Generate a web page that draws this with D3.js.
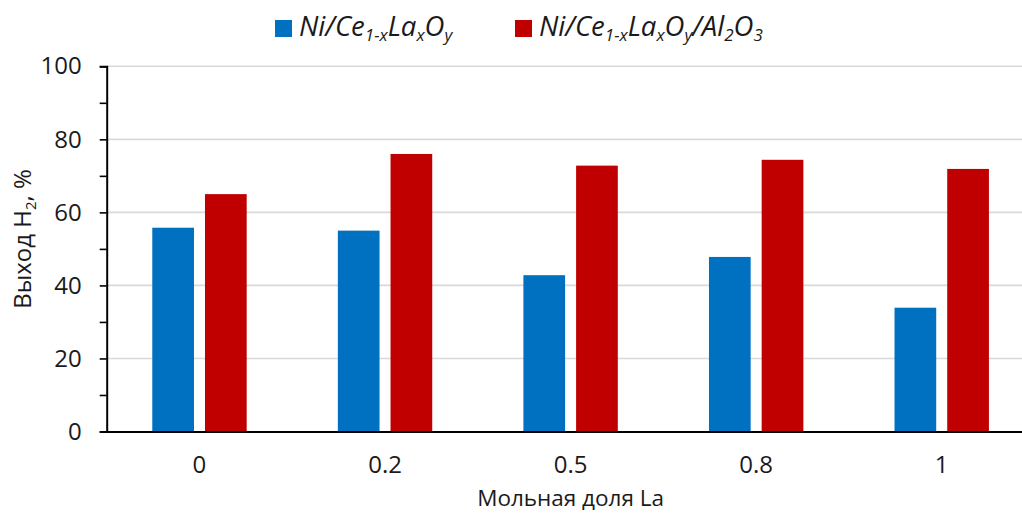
<!DOCTYPE html>
<html>
<head>
<meta charset="utf-8">
<script src="https://cdn.jsdelivr.net/npm/d3@7"></script>
<style>
  html, body { margin: 0; padding: 0; background: #fff; overflow: hidden; }
  text { font-family: "Open Sans", "Noto Sans", sans-serif; fill: #1a1a1a; }
</style>
</head>
<body>
<svg id="chart" width="1022" height="513"></svg>
<script>
const categories = ["0", "0.2", "0.5", "0.8", "1"];
const seriesNames = ["Ni/Ce1-xLaxOy", "Ni/Ce1-xLaxOy/Al2O3"];
const seriesA = [55.8, 55.0, 42.8, 47.8, 33.9];
const seriesB = [65.0, 76.0, 72.8, 74.4, 71.9];
const yTicks = [0, 20, 40, 60, 80, 100];
const yMinorTicks = [10, 30, 50, 70, 90];
const colors = ["#0070C0", "#C00000"];

const svg = d3.select("#chart");
const mLeft = 106.7, mRight = 1034.5, mTop = 66.3, mBottom = 431.5;

const x = d3.scaleBand().domain(categories).range([mLeft, mRight]).paddingInner(0).paddingOuter(0);
const y = d3.scaleLinear().domain([0, 100]).range([mBottom, mTop]);

const barW = 41.7, gap = 11;
const sub = d3.scaleOrdinal().domain([0, 1]).range([-(gap / 2 + barW), gap / 2]);

// gridlines
svg.append("g").selectAll("line").data(yTicks.filter(d => d > 0)).join("line")
  .attr("x1", mLeft).attr("x2", 1022)
  .attr("y1", d => y(d)).attr("y2", d => y(d))
  .attr("stroke", "#d9d9d9").attr("stroke-width", 1.6);

// bars
const data = categories.map((c, i) => ({ c, vals: [seriesA[i], seriesB[i]] }));
const groups = svg.append("g").selectAll("g").data(data).join("g")
  .attr("transform", d => `translate(${x(d.c) + x.bandwidth() / 2},0)`);
groups.selectAll("rect").data(d => d.vals.map((v, k) => ({ v, k }))).join("rect")
  .attr("x", d => sub(d.k))
  .attr("width", barW)
  .attr("y", d => y(d.v))
  .attr("height", d => y(0) - y(d.v))
  .attr("fill", d => colors[d.k]);

// y axis
const yAxis = d3.axisLeft(y).tickValues(yTicks).tickSize(7).tickPadding(18).tickFormat(d3.format("d"));
const yg = svg.append("g").attr("transform", `translate(${mLeft},0)`).call(yAxis);
yg.select(".domain").attr("stroke", "#000").attr("stroke-width", 2);
yg.selectAll(".tick line").attr("stroke", "#000").attr("stroke-width", 1.6);
yg.selectAll(".tick text").attr("font-size", 24).attr("font-family", "Open Sans").attr("fill", "#1a1a1a");
const yMinor = d3.axisLeft(y).tickValues(yMinorTicks).tickSize(7).tickFormat("");
const ym = svg.append("g").attr("transform", `translate(${mLeft},0)`).call(yMinor);
ym.select(".domain").remove();
ym.selectAll(".tick line").attr("stroke", "#000").attr("stroke-width", 1.6);

// x axis
const xAxis = d3.axisBottom(x).tickSize(0).tickPadding(24);
const xg = svg.append("g").attr("transform", `translate(0,${mBottom})`).call(xAxis);
xg.select(".domain").attr("stroke", "#000").attr("stroke-width", 2);
xg.selectAll(".tick text").attr("font-size", 24).attr("font-family", "Open Sans").attr("fill", "#1a1a1a");

// axis titles
svg.append("text")
  .attr("x", x("0.5") + x.bandwidth() / 2)
  .attr("y", 506).attr("text-anchor", "middle").attr("font-size", 22.5)
  .text("Мольная доля La");

const yt = svg.append("text")
  .attr("transform", `translate(31,${(mTop + mBottom) / 2 - 10}) rotate(-90)`)
  .attr("text-anchor", "middle").attr("font-size", 24);
yt.append("tspan").text("Выход H");
yt.append("tspan").attr("font-size", 15).attr("dy", 5).text("2");
yt.append("tspan").attr("dy", -5).text(", %");

// legend
function chem(t, parts) {
  parts.forEach(p => {
    const s = t.append("tspan").text(p[0]);
    if (p[1] === "sub") s.attr("font-size", 17).attr("dy", 5);
    else if (p[1] === "back") s.attr("dy", -5);
  });
}
const leg = svg.append("g");
const legItems = [
  { x: 275, parts: [["Ni/Ce"], ["1-x", "sub"], ["La", "back"], ["x", "sub"], ["O", "back"], ["y", "sub"]] },
  { x: 515, parts: [["Ni/Ce"], ["1-x", "sub"], ["La", "back"], ["x", "sub"], ["O", "back"], ["y", "sub"], ["/Al", "back"], ["2", "sub"], ["O", "back"], ["3", "sub"]] }
];
legItems.forEach((it, i) => {
  leg.append("rect").attr("x", it.x).attr("y", 20).attr("width", 17).attr("height", 17).attr("fill", colors[i]);
  const t = leg.append("text").attr("x", it.x + 24).attr("y", 36)
    .attr("font-size", 27.5).attr("font-style", "italic");
  chem(t, it.parts);
});
</script>
</body>
</html>
